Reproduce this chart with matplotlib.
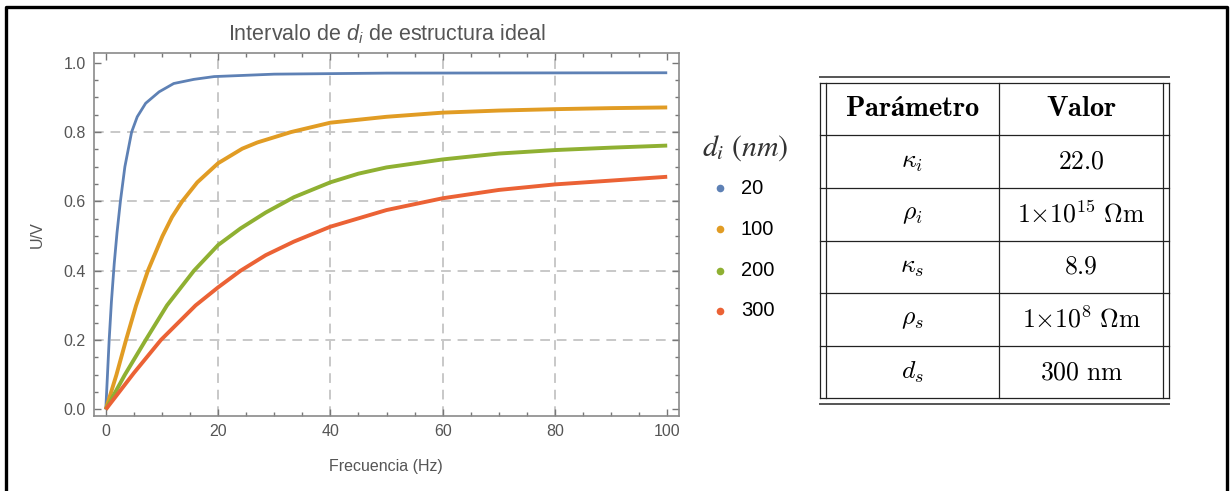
import matplotlib
matplotlib.use("Agg")
import matplotlib.pyplot as plt
from matplotlib.lines import Line2D
from matplotlib.ticker import MultipleLocator

# ---- data -------------------------------------------------------------
freq_20 = [0, 0.3, 0.6, 1.0, 1.5, 2.0, 2.6, 3.4, 4.6, 5.6, 7.1, 9.5, 12.1, 15.7, 19.3, 30, 50, 100]
u_20 = [0, 0.10, 0.20, 0.31, 0.42, 0.51, 0.60, 0.70, 0.80, 0.844, 0.883, 0.916, 0.940, 0.952,
        0.960, 0.967, 0.970, 0.971]

freq_100 = [0, 1.9, 3.6, 5.4, 7.5, 10.1, 11.8, 13.6, 16.3, 20, 24.3, 27, 33, 40, 50, 60, 70, 80, 90, 100]
u_100 = [0, 0.10, 0.20, 0.30, 0.40, 0.50, 0.555, 0.60, 0.655, 0.71, 0.752, 0.770, 0.80, 0.827,
         0.844, 0.856, 0.862, 0.866, 0.869, 0.871]

freq_200 = [0, 3.4, 7.1, 10.9, 15.7, 20, 24, 28.5, 33.5, 40, 45, 50, 60, 70, 80, 90, 100]
u_200 = [0, 0.10, 0.20, 0.30, 0.40, 0.474, 0.522, 0.568, 0.612, 0.655, 0.680, 0.698, 0.721,
         0.738, 0.748, 0.755, 0.761]

freq_300 = [0, 5.0, 9.8, 16.0, 20, 24, 28.5, 33.5, 40, 50, 60, 70, 80, 90, 100]
u_300 = [0, 0.105, 0.20, 0.30, 0.352, 0.40, 0.445, 0.484, 0.527, 0.575, 0.609, 0.633, 0.649,
         0.660, 0.671]

series_labels = ["20", "100", "200", "300"]
series_colors = ["#5E81B5", "#E19C24", "#8FB032", "#EB6235"]

table_header = [r"$\mathbf{Parámetro}$", r"$\mathbf{Valor}$"]
table_params = [r"$\kappa_i$", r"$\rho_i$", r"$\kappa_s$", r"$\rho_s$", r"$d_s$"]
table_values = [r"$22.0$", r"$1{\times}10^{15}\ \Omega\mathrm{m}$", r"$8.9$",
                r"$1{\times}10^{8}\ \Omega\mathrm{m}$", r"$300\ \mathrm{nm}$"]

# ---- figure -----------------------------------------------------------
W, H = 1231, 491
plt.rcParams["font.family"] = ["Liberation Sans", "DejaVu Sans"]
plt.rcParams["mathtext.fontset"] = "custom"
plt.rcParams["mathtext.rm"] = "Liberation Sans"
plt.rcParams["mathtext.it"] = "Liberation Sans:italic"
plt.rcParams["mathtext.bf"] = "Liberation Sans:bold"

fig = plt.figure(figsize=(W / 100, H / 100), dpi=100)


def fx(px):
    return px / W


def fy(py):
    return 1 - py / H


gray_text = "#555555"

ax = fig.add_axes([fx(94), fy(416), fx(679) - fx(94), fy(53) - fy(416)])
ax.set_xlim(-2.1, 102.1)
ax.set_ylim(-0.019, 1.028)

all_freq = [freq_20, freq_100, freq_200, freq_300]
all_u = [u_20, u_100, u_200, u_300]
widths = [2.0, 2.8, 2.8, 2.8]
for f, u, c, lw in zip(all_freq, all_u, series_colors, widths):
    ax.plot(f, u, color=c, lw=lw, solid_capstyle="butt", solid_joinstyle="round", zorder=3)

ax.xaxis.set_major_locator(MultipleLocator(20))
ax.xaxis.set_minor_locator(MultipleLocator(5))
ax.yaxis.set_minor_locator(MultipleLocator(0.05))
ax.set_yticks([0, 0.2, 0.4, 0.6, 0.8, 1.0])
ax.set_yticklabels(["0.0", "0.2", "0.4", "0.6", "0.8", "1.0"])

ax.tick_params(which="both", direction="in", top=True, right=True,
               color="#777777", width=1.0, labelsize=11.5, labelcolor=gray_text)
ax.tick_params(which="major", length=5, pad=6)
ax.tick_params(which="minor", length=3)
for s in ax.spines.values():
    s.set_color("#8a8a8a")
    s.set_linewidth(1.2)

for gx in [20, 40, 60, 80]:
    ax.axvline(gx, color="#c8c8c8", lw=1.4, ls=(0, (5, 3.5)), zorder=1)
for gy in [0.2, 0.4, 0.6, 0.8]:
    ax.axhline(gy, color="#c8c8c8", lw=1.4, ls=(0, (5, 3.5)), zorder=1)

fig.text(fx(387), fy(34), r"Intervalo de $d_i$ de estructura ideal",
         ha="center", va="center", fontsize=15.5, color=gray_text)
fig.text(fx(386), fy(467), "Frecuencia (Hz)", ha="center", va="center",
         fontsize=11.5, color=gray_text)
fig.text(fx(37), fy(235), "U/V", ha="center", va="center", rotation=90,
         fontsize=11.5, color=gray_text)

# ---- legend -----------------------------------------------------------
fig.text(fx(745), fy(148), r"$d_i\ (nm)$", ha="center", va="center",
         fontsize=21.5, color="#333333", math_fontfamily="stix")
leg_y = [188, 229.5, 270.5, 311]
for lab, c, py in zip(series_labels, series_colors, leg_y):
    fig.add_artist(Line2D([fx(720)], [fy(py)], marker="o", ms=5.5, color=c,
                          markeredgewidth=0, transform=fig.transFigure))
    fig.text(fx(741), fy(py), lab, ha="left", va="center", fontsize=14.5,
             color="black")

# ---- parameter table --------------------------------------------------
tl = dict(color="#222222", lw=0.9, transform=fig.transFigure)
x_left, x_right = 820.5, 1168.5
fig.add_artist(Line2D([fx(x_left), fx(x_right)], [fy(76.5)] * 2, color="#555555", lw=1.4,
                      transform=fig.transFigure))
fig.add_artist(Line2D([fx(x_left), fx(x_right)], [fy(403.5)] * 2, color="#555555", lw=1.4,
                      transform=fig.transFigure))
rows = [82.7, 135.3, 187.7, 241, 292.7, 346, 398.3]
for ry in rows:
    fig.add_artist(Line2D([fx(x_left), fx(x_right)], [fy(ry)] * 2, **tl))
for vx in [x_left, 825.7, 999.3, 1163.3, x_right]:
    fig.add_artist(Line2D([fx(vx)] * 2, [fy(rows[0]), fy(rows[-1])], **tl))

c1, c2 = 912.5, 1081.3
centers = [(rows[i] + rows[i + 1]) / 2 for i in range(len(rows) - 1)]
fig.text(fx(c1), fy(centers[0]), table_header[0], ha="center", va="center",
         fontsize=20.5, math_fontfamily="cm")
fig.text(fx(c2), fy(centers[0]), table_header[1], ha="center", va="center",
         fontsize=20.5, math_fontfamily="cm")
for p, v, cy in zip(table_params, table_values, centers[1:]):
    fig.text(fx(c1), fy(cy), p, ha="center", va="center", fontsize=18.5,
             math_fontfamily="cm")
    fig.text(fx(c2), fy(cy), v, ha="center", va="center", fontsize=18.5,
             math_fontfamily="cm")

# ---- outer frame ------------------------------------------------------
fig.add_artist(Line2D([fx(5.5), fx(5.5), fx(1226.5), fx(1226.5)],
                      [0, fy(6.5), fy(6.5), 0], color="black", lw=2.4,
                      transform=fig.transFigure))

fig.savefig("out.png", dpi=100)
